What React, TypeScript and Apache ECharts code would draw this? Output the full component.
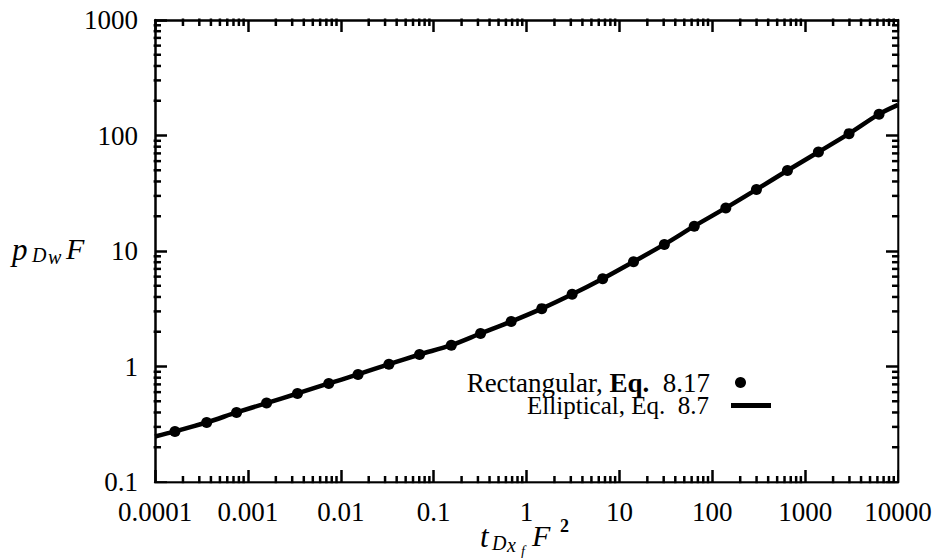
import React, { useEffect, useRef } from 'react';
import * as echarts from 'echarts';

const xTickLabels = ['0.0001', '0.001', '0.01', '0.1', '1', '10', '100', '1000', '10000'];
const yTickLabels = ['0.1', '1', '10', '100', '1000'];

// Rectangular, Eq. 8.17 (dots)
const rectT = [0.000164, 0.00036, 0.000755, 0.00159, 0.00342, 0.00743, 0.01535, 0.033, 0.0706, 0.155, 0.32, 0.684,
  1.46, 3.1, 6.61, 14.2, 30.5, 64.0, 140, 299, 645, 1390, 2970, 6250];
const rectP = [0.274, 0.328, 0.4, 0.482, 0.584, 0.713, 0.853, 1.047, 1.27, 1.53, 1.93, 2.45,
  3.17, 4.22, 5.76, 8.08, 11.4, 16.4, 23.6, 34.1, 49.8, 72, 103.8, 153];

// Elliptical, Eq. 8.7 (line)
const ellT = [0.0001, 0.000164, 0.00036, 0.000755, 0.00159, 0.00342, 0.00743, 0.01535, 0.033, 0.0706, 0.155, 0.32, 0.684,
  1.46, 3.1, 6.61, 14.2, 30.5, 64.0, 140, 299, 645, 1390, 2970, 6250, 10000];
const ellP = [0.248, 0.274, 0.328, 0.4, 0.482, 0.584, 0.713, 0.853, 1.047, 1.27, 1.53, 1.93, 2.45,
  3.17, 4.22, 5.76, 8.08, 11.4, 16.4, 23.6, 34.1, 49.8, 72, 103.8, 153, 184];

const minorMantissas = [2, 3, 4, 5, 6, 7, 8, 9];
const xDecades = [0.0001, 0.001, 0.01, 0.1, 1, 10, 100, 1000];
const yDecades = [0.1, 1, 10, 100];
const X_MIN = 0.0001, X_MAX = 10000, Y_MIN = 0.1, Y_MAX = 1000;

const SERIF = 'Liberation Serif';
const TICK = '#000';

export default function App() {
  const ref = useRef<HTMLDivElement>(null);
  useEffect(() => {
    if (!ref.current) return;
    const chart = echarts.init(ref.current, undefined, { renderer: 'svg' });

    const xMinor: number[] = [];
    xDecades.forEach((d) => minorMantissas.forEach((m) => xMinor.push(d * m)));
    const yMinor: number[] = [];
    yDecades.forEach((d) => minorMantissas.forEach((m) => yMinor.push(d * m)));

    const mkTick = () => ({ show: true, inside: true, length: 12, lineStyle: { color: TICK, width: 2.5 } });
    const mkLine = () => ({ show: true, onZero: false, lineStyle: { color: '#000', width: 2.5 } });
    const L = 6;

    const tickSeries = (data: number[][], size: number[], offset: number[]) => ({
      type: 'scatter', xAxisIndex: 0, yAxisIndex: 0, clip: false,
      data, symbol: 'rect', symbolSize: size, symbolOffset: offset,
      itemStyle: { color: TICK, opacity: 1 }, z: 5,
    });

    const mask = { fill: '#fff' };

    const option: any = {
      animation: false,
      backgroundColor: '#fff',
      grid: { left: 155, right: 41, top: 20, bottom: 76 },
      xAxis: [
        {
          type: 'log', min: X_MIN, max: X_MAX, interval: 1, position: 'bottom',
          axisLine: mkLine(), axisTick: mkTick(), splitLine: { show: false },
          axisLabel: {
            color: '#000', fontFamily: SERIF, fontSize: 27, margin: 16,
            formatter: (v: number) => xTickLabels[Math.round(Math.log10(v)) + 4],
          },
        },
        {
          type: 'log', min: X_MIN, max: X_MAX, interval: 1, position: 'top',
          axisLine: mkLine(), axisTick: mkTick(), splitLine: { show: false }, axisLabel: { show: false },
        },
      ],
      yAxis: [
        {
          type: 'log', min: Y_MIN, max: Y_MAX, interval: 1, position: 'left',
          axisLine: mkLine(), axisTick: mkTick(), splitLine: { show: false },
          axisLabel: {
            color: '#000', fontFamily: SERIF, fontSize: 27, margin: 17,
            formatter: (v: number) => yTickLabels[Math.round(Math.log10(v)) + 1],
          },
        },
        {
          type: 'log', min: Y_MIN, max: Y_MAX, interval: 1, position: 'right',
          axisLine: mkLine(), axisTick: mkTick(), splitLine: { show: false }, axisLabel: { show: false },
        },
      ],
      legend: [
        {
          data: [{ name: 'Rectangular', icon: 'circle' }],
          orient: 'vertical', align: 'right', right: 193, top: 369, padding: 0,
          itemWidth: 11, itemHeight: 11, selectedMode: false,
          formatter: () => 'Rectangular, {b|Eq.}  8.17{g| }',
          textStyle: {
            color: '#000', fontFamily: SERIF, fontSize: 27,
            rich: {
              b: { fontWeight: 'bold', fontFamily: SERIF, fontSize: 27, color: '#000' },
              g: { width: 20, fontSize: 27 },
            },
          },
        },
        {
          data: [{ name: 'Elliptical', icon: 'rect' }],
          orient: 'vertical', align: 'right', right: 168, top: 393, padding: 0,
          itemWidth: 40, itemHeight: 5, selectedMode: false,
          formatter: () => 'Elliptical, Eq.  8.7{g| }',
          textStyle: {
            color: '#000', fontFamily: SERIF, fontSize: 25,
            rich: { g: { width: 17, fontSize: 25 } },
          },
        },
      ],
      series: [
        {
          name: 'Elliptical', type: 'line', xAxisIndex: 0, yAxisIndex: 0,
          data: ellT.map((t, i) => [t, ellP[i]]),
          showSymbol: false, smooth: 0.3, color: '#000',
          lineStyle: { color: '#000', width: 4.5 }, z: 3,
        },
        {
          name: 'Rectangular', type: 'scatter', xAxisIndex: 0, yAxisIndex: 0,
          data: rectT.map((t, i) => [t, rectP[i]]),
          symbol: 'circle', symbolSize: 11, color: '#000',
          itemStyle: { color: '#000', opacity: 1 }, z: 4,
        },
        tickSeries(xMinor.map((v) => [v, Y_MIN]), [2.5, L * 2], [0, 0]),
        tickSeries(xMinor.map((v) => [v, Y_MAX]), [2.5, L * 2], [0, 0]),
        tickSeries(yMinor.map((v) => [X_MIN, v]), [L * 2, 2.5], [0, 0]),
        tickSeries(yMinor.map((v) => [X_MAX, v]), [L * 2, 2.5], [0, 0]),
      ],
      graphic: [
        { type: 'rect', shape: { x: 145, y: 10, width: 8.6, height: 482 }, style: mask, z: 10, silent: true },
        { type: 'rect', shape: { x: 145, y: 483.4, width: 764, height: 8 }, style: mask, z: 10, silent: true },
        { type: 'rect', shape: { x: 145, y: 10, width: 764, height: 8.6 }, style: mask, z: 10, silent: true },
        { type: 'rect', shape: { x: 899.4, y: 10, width: 9, height: 482 }, style: mask, z: 10, silent: true },
        { type: 'text', x: 12, y: 249, z: 11, style: { text: 'p', font: `italic 31px ${SERIF}`, fill: '#000', textVerticalAlign: 'middle' } },
        { type: 'text', x: 32, y: 255, z: 11, style: { text: 'D', font: `italic 20px ${SERIF}`, fill: '#000', textVerticalAlign: 'middle' } },
        { type: 'text', x: 48, y: 257, z: 11, style: { text: 'w', font: `italic 20px ${SERIF}`, fill: '#000', textVerticalAlign: 'middle' } },
        { type: 'text', x: 66, y: 248, z: 11, style: { text: 'F', font: `italic 30px ${SERIF}`, fill: '#000', textVerticalAlign: 'middle' } },
        { type: 'text', x: 480, y: 536, z: 11, style: { text: 't', font: `italic 31px ${SERIF}`, fill: '#000', textVerticalAlign: 'middle' } },
        { type: 'text', x: 492, y: 543, z: 11, style: { text: 'D', font: `italic 20px ${SERIF}`, fill: '#000', textVerticalAlign: 'middle' } },
        { type: 'text', x: 507, y: 545, z: 11, style: { text: 'x', font: `italic 20px ${SERIF}`, fill: '#000', textVerticalAlign: 'middle' } },
        { type: 'text', x: 521, y: 551, z: 11, style: { text: 'f', font: `italic 14px ${SERIF}`, fill: '#000', textVerticalAlign: 'middle' } },
        { type: 'text', x: 532, y: 535, z: 11, style: { text: 'F', font: `italic 30px ${SERIF}`, fill: '#000', textVerticalAlign: 'middle' } },
        { type: 'text', x: 560, y: 526, z: 11, style: { text: '2', font: `bold 18px ${SERIF}`, fill: '#000', textVerticalAlign: 'middle' } },
      ],
    };
    chart.setOption(option);
    return () => chart.dispose();
  }, []);
  return <div ref={ref} style={{ width: 939, height: 558, position: 'absolute', left: 0, top: 0, background: '#fff' }} />;
}
